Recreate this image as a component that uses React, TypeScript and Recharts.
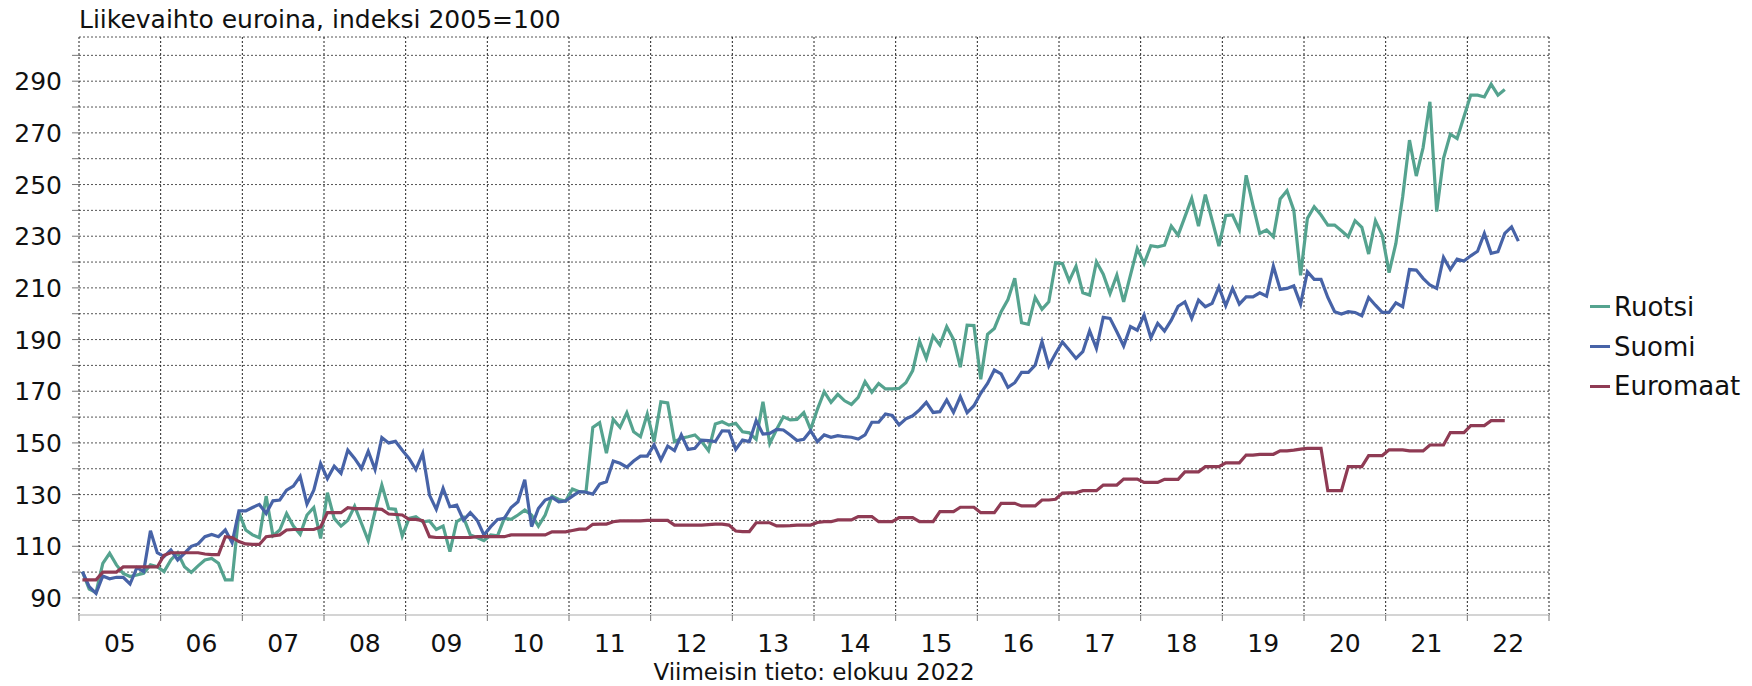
import React from "react";
import { CartesianGrid, Line, LineChart, XAxis, YAxis } from "recharts";

// Kuukausidata 1/2005 – 8/2022, indeksi 2005=100
const YEAR_LABELS = ["05", "06", "07", "08", "09", "10", "11", "12", "13", "14", "15", "16", "17", "18", "19", "20", "21", "22"];
const YEAR_BOUNDS = [0, 12, 24, 36, 48, 60, 72, 84, 96, 108, 120, 132, 144, 156, 168, 180, 192, 204, 216];
const Y_GRID = [90, 100, 110, 120, 130, 140, 150, 160, 170, 180, 190, 200, 210, 220, 230, 240, 250, 260, 270, 280, 290, 300];
const Y_LABELS = [90, 110, 130, 150, 170, 190, 210, 230, 250, 270, 290];

const RUOTSI = [
  100.2, 93.4, 92.1, 103.4, 107.3, 102.8, 99.5, 98.3, 98.9, 99.5, 102.8, 102.1,
  100.2, 104.7, 107.5, 102.1, 99.9, 102.4, 104.7, 105.3, 103.4, 97.0, 97.0, 123.0,
  116.3, 114.4, 113.3, 129.4, 114.1, 116.3, 122.7, 117.8, 114.6, 122.1, 125.0, 113.0,
  130.7, 120.8, 117.8, 120.1, 125.5, 118.9, 112.2, 123.4, 133.7, 124.6, 124.3, 114.0,
  120.8, 121.4, 119.5, 119.8, 116.5, 117.8, 107.9, 119.5, 121.2, 114.4, 113.4, 112.2,
  114.4, 114.0, 120.8, 120.4, 122.1, 124.0, 122.1, 117.8, 122.1, 129.4, 128.1, 127.5,
  132.2, 131.1, 131.1, 156.0, 157.8, 146.0, 159.1, 156.0, 161.7, 154.3, 152.4, 161.2,
  150.5, 165.9, 165.5, 150.5, 151.8, 152.4, 153.1, 150.5, 147.0, 157.3, 158.2, 156.9,
  157.6, 154.3, 153.9, 151.4, 165.9, 149.8, 155.2, 160.1, 158.9, 159.1, 161.7, 155.2,
  163.0, 169.8, 165.7, 168.8, 166.3, 164.9, 167.6, 173.7, 169.6, 173.0, 170.9, 170.9,
  171.1, 173.3, 178.0, 189.4, 182.7, 191.4, 187.9, 195.0, 190.1, 179.3, 195.6, 195.4,
  174.6, 192.0, 194.3, 200.8, 205.5, 213.7, 196.5, 195.9, 206.3, 201.7, 204.6, 219.7,
  219.4, 212.7, 218.4, 208.1, 207.2, 220.1, 215.3, 207.8, 214.9, 204.6, 214.9, 225.2,
  219.4, 226.3, 225.9, 226.5, 233.9, 230.4, 237.5, 244.6, 233.9, 246.1, 236.2, 226.2,
  238.0, 238.2, 232.4, 253.6, 242.0, 231.1, 232.4, 229.8, 244.4, 247.6, 240.1, 214.9,
  236.9, 241.4, 238.2, 234.3, 234.3, 232.1, 229.8, 236.0, 233.4, 223.1, 236.0, 230.4,
  215.9, 227.2, 245.3, 267.2, 253.3, 264.3, 282.0, 239.5, 260.1, 269.5, 267.8, 276.2,
  284.6, 284.6, 283.9, 288.8, 284.6, 286.8,
];

const SUOMI = [
  100.2, 94.4, 91.8, 98.5, 97.4, 98.0, 98.0, 95.4, 101.7, 100.2, 116.0, 107.5,
  106.0, 108.6, 104.7, 107.3, 110.0, 110.9, 113.7, 114.6, 113.7, 116.3, 111.4, 123.7,
  123.7, 125.0, 126.2, 122.7, 127.6, 127.9, 131.7, 133.3, 137.1, 126.3, 131.7, 142.0,
  136.2, 141.0, 138.2, 147.2, 144.0, 140.1, 146.8, 139.7, 152.1, 150.0, 150.6, 147.2,
  144.0, 139.7, 145.9, 129.8, 124.3, 132.4, 125.3, 125.9, 120.1, 123.0, 120.1, 114.4,
  117.6, 120.4, 120.8, 125.0, 127.2, 135.8, 117.6, 124.6, 127.9, 128.9, 127.2, 127.5,
  129.4, 131.1, 130.9, 130.2, 134.1, 135.0, 143.0, 142.1, 140.6, 143.0, 144.9, 144.9,
  149.2, 143.4, 148.8, 147.0, 153.1, 147.5, 147.9, 151.1, 150.9, 150.5, 154.7, 154.6,
  147.5, 151.1, 150.5, 158.6, 153.4, 153.7, 155.2, 155.0, 153.1, 150.9, 151.4, 154.7,
  150.5, 153.1, 152.2, 152.8, 152.4, 152.2, 151.5, 153.1, 158.0, 158.0, 161.2, 160.6,
  157.0, 159.3, 160.5, 162.8, 165.7, 161.8, 162.1, 166.6, 161.8, 167.9, 161.7, 164.4,
  169.2, 173.0, 178.2, 176.7, 171.5, 173.3, 177.3, 177.3, 180.1, 189.2, 179.8, 184.6,
  189.1, 186.0, 182.7, 185.3, 193.4, 186.6, 198.6, 198.2, 193.0, 187.5, 195.0, 193.6,
  199.5, 190.7, 196.3, 193.3, 197.5, 202.9, 204.6, 198.2, 205.3, 202.7, 204.0, 210.4,
  203.1, 209.8, 203.7, 206.5, 206.5, 208.1, 206.8, 218.4, 209.4, 209.8, 210.8, 203.7,
  216.3, 213.3, 213.3, 206.3, 200.8, 199.9, 200.8, 200.5, 199.2, 206.3, 203.3, 200.5,
  200.5, 204.2, 202.7, 217.1, 216.9, 213.7, 211.1, 209.8, 221.8, 217.1, 221.1, 220.4,
  222.4, 224.2, 231.1, 223.4, 224.0, 231.1, 233.6, 228.1,
];

const EUROMAAT = [
  97.0, 97.0, 97.0, 100.0, 100.0, 100.0, 102.0, 102.0, 102.0, 102.0, 102.0, 102.0,
  106.5, 107.5, 107.5, 107.5, 107.5, 107.5, 107.0, 106.8, 106.8, 113.7, 113.4, 111.8,
  110.9, 110.7, 110.7, 113.7, 114.0, 114.4, 116.3, 116.5, 116.5, 116.5, 116.5, 117.5,
  123.0, 123.0, 123.0, 124.9, 124.6, 124.6, 124.6, 124.5, 124.3, 122.5, 122.3, 122.1,
  120.4, 120.4, 119.9, 113.7, 113.4, 113.4, 113.4, 113.4, 113.4, 113.4, 113.7, 113.7,
  113.7, 113.7, 113.7, 114.4, 114.4, 114.4, 114.4, 114.4, 114.4, 115.6, 115.6, 115.6,
  116.1, 116.6, 116.6, 118.5, 118.6, 118.6, 119.5, 119.8, 119.8, 119.8, 119.8, 120.0,
  120.0, 120.0, 120.0, 118.2, 118.2, 118.2, 118.2, 118.2, 118.4, 118.6, 118.6, 118.2,
  115.9, 115.7, 115.7, 119.1, 119.1, 119.1, 117.9, 117.9, 118.0, 118.2, 118.2, 118.2,
  119.2, 119.5, 119.5, 120.2, 120.2, 120.2, 121.5, 121.5, 121.5, 119.5, 119.5, 119.5,
  121.1, 121.1, 121.1, 119.5, 119.5, 119.5, 123.4, 123.4, 123.4, 125.1, 125.1, 125.1,
  123.0, 123.0, 123.0, 126.6, 126.6, 126.6, 125.6, 125.6, 125.6, 127.9, 127.9, 128.2,
  130.6, 130.7, 130.7, 131.5, 131.5, 131.5, 133.7, 133.7, 133.7, 136.0, 136.0, 136.0,
  134.7, 134.7, 134.7, 135.9, 135.9, 135.9, 138.8, 138.8, 138.8, 140.8, 140.8, 140.8,
  142.3, 142.3, 142.3, 145.3, 145.3, 145.6, 145.6, 145.6, 146.9, 146.9, 147.2, 147.6,
  147.9, 147.9, 147.9, 131.5, 131.5, 131.5, 140.8, 140.8, 140.8, 145.1, 145.1, 145.1,
  147.3, 147.3, 147.3, 146.9, 146.9, 146.9, 149.2, 149.2, 149.2, 154.0, 154.0, 154.0,
  156.7, 156.7, 156.7, 158.6, 158.6, 158.6,
];

const SERIES = [
  { key: "ruotsi", name: "Ruotsi", color: "#55a38f" },
  { key: "suomi", name: "Suomi", color: "#4763a7" },
  { key: "euromaat", name: "Euromaat", color: "#8f3b54" },
];

const FONT = "'DejaVu Sans', Verdana, sans-serif";
const WIDTH = 1752;
const HEIGHT = 686;
const X_AXIS_H = 40;
const MARGIN = { top: 37, right: 203, bottom: 71 - X_AXIS_H, left: 0 };
const Y_AXIS_W = 79;
// puolen vuoden leveys pikseleinä: vuosinimike keskelle vuoden väliä
const HALF_YEAR_PX = ((WIDTH - Y_AXIS_W - MARGIN.right) / 216) * 6;

const rows = SUOMI.map((v, i) => ({
  t: i + 0.5,
  ruotsi: RUOTSI[i],
  suomi: v,
  euromaat: EUROMAAT[i],
}));

function YearTick(props: any) {
  const { x, y, payload } = props;
  const label = YEAR_LABELS[YEAR_BOUNDS.indexOf(payload.value)];
  if (!label) return <g />;
  return (
    <text x={x + HALF_YEAR_PX} y={y + 31} textAnchor="middle" fontSize={25} fontFamily={FONT} fill="#111">
      {label}
    </text>
  );
}

function ValueTick(props: any) {
  const { x, y, payload } = props;
  if (!Y_LABELS.includes(payload.value)) return <g />;
  return (
    <text x={x} y={y} dy="0.36em" textAnchor="end" fontSize={25} fontFamily={FONT} fill="#111">
      {payload.value}
    </text>
  );
}

export default function App() {
  return (
    <div style={{ position: "absolute", left: 0, top: 0, width: WIDTH, height: HEIGHT, background: "#fff" }}>
      <LineChart width={WIDTH} height={HEIGHT} data={rows} margin={MARGIN}>
        <CartesianGrid vertical={false} stroke="#555" strokeDasharray="2 2" />
        <CartesianGrid horizontal={false} stroke="#222" strokeDasharray="2 2" />
        <XAxis
          type="number"
          dataKey="t"
          domain={[0, 216]}
          ticks={YEAR_BOUNDS}
          interval={0}
          height={X_AXIS_H}
          tick={YearTick}
          tickSize={6}
          tickMargin={0}
          tickLine={{ stroke: "#777" }}
          axisLine={{ stroke: "#d4d4d4", strokeWidth: 2 }}
        />
        <YAxis
          type="number"
          domain={[83.4, 307.1]}
          allowDataOverflow
          ticks={Y_GRID}
          interval={0}
          width={Y_AXIS_W}
          tick={ValueTick}
          tickSize={7}
          tickMargin={10}
          tickLine={{ stroke: "#777" }}
          axisLine={false}
        />
        {SERIES.map((s) => (
          <Line
            key={s.key}
            type="linear"
            dataKey={s.key}
            name={s.name}
            stroke={s.color}
            strokeWidth={3.2}
            dot={false}
            activeDot={false}
            isAnimationActive={false}
          />
        ))}
      </LineChart>

      <svg width={WIDTH} height={HEIGHT} style={{ position: "absolute", left: 0, top: 0, pointerEvents: "none" }}>
        <text x={79} y={28} fontSize={25} fontFamily={FONT} fill="#111">
          Liikevaihto euroina, indeksi 2005=100
        </text>
        <text x={814} y={680} textAnchor="middle" fontSize={23} fontFamily={FONT} fill="#111">
          Viimeisin tieto: elokuu 2022
        </text>
      </svg>

      {/* Selite oikealla */}
      <div style={{ position: "absolute", left: 1590, top: 287, fontFamily: FONT, fontSize: 26, color: "#111" }}>
        {SERIES.map((s) => (
          <div key={s.key} style={{ display: "flex", alignItems: "center", height: 39.7 }}>
            <span style={{ display: "inline-block", width: 20, height: 3, background: s.color }} />
            <span style={{ marginLeft: 4, lineHeight: 1 }}>{s.name}</span>
          </div>
        ))}
      </div>
    </div>
  );
}
